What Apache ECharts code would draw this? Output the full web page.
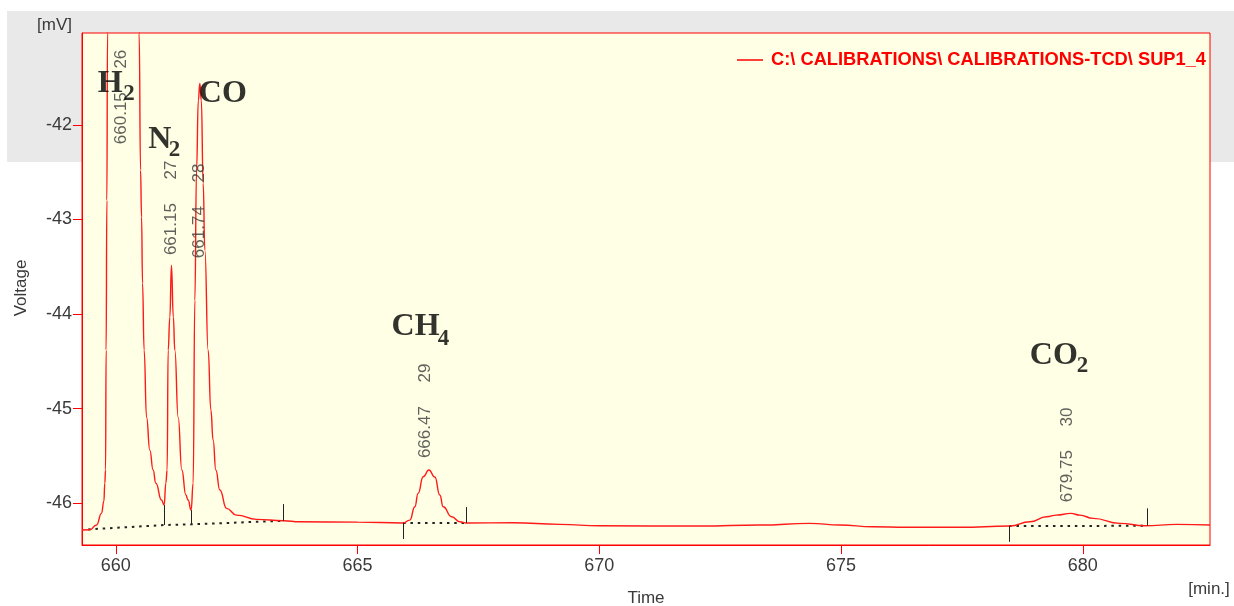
<!DOCTYPE html>
<html>
<head>
<meta charset="utf-8">
<script src="https://cdn.jsdelivr.net/npm/echarts@6/dist/echarts.min.js"></script>
<style>
html,body{margin:0;padding:0;background:#ffffff;}
#c{width:1234px;height:606px;}
</style>
</head>
<body>
<div id="c"></div>
<script>
// ---------- data ----------
const seriesName = 'C:\\ CALIBRATIONS\\ CALIBRATIONS-TCD\\ SUP1_4';

const traceTime = [
  659.300, 659.462, 659.601, 659.704, 659.752, 659.772, 659.787, 659.799, 659.814, 659.828,
  659.845, 660.150, 660.470, 660.482, 660.511, 660.532, 660.552, 660.585, 660.635, 660.703,
  660.771, 660.827, 660.945, 660.999, 661.034, 661.061, 661.082, 661.117, 661.150, 661.189,
  661.220, 661.289, 661.365, 661.448, 661.495, 661.557, 661.599, 661.634, 661.669, 661.706,
  661.737, 661.768, 661.806, 661.841, 661.909, 661.965, 662.012, 662.068, 662.151, 662.290,
  662.496, 662.910, 663.460, 663.806, 665.000, 665.942, 666.081, 666.184, 666.252, 666.356,
  666.474, 666.598, 666.701, 666.770, 666.944, 667.115, 667.253, 668.211, 669.183, 670.010,
  672.079, 673.320, 674.345, 674.974, 675.657, 676.360, 677.456, 678.490, 678.904, 679.249,
  679.456, 679.750, 679.937, 680.213, 680.765, 681.282, 681.938, 682.630
];
const traceVolt = [
  -46.282, -46.279, -46.229, -46.106, -45.977, -45.786, -45.648, -44.381, -42.797, -41.032,
  -39.000, -36.500, -39.500, -41.035, -42.480, -42.976, -43.673, -44.381, -45.089, -45.437,
  -45.648, -45.786, -45.965, -46.018, -45.786, -45.648, -44.381, -44.032, -43.483, -44.032,
  -44.381, -45.089, -45.648, -45.912, -45.965, -46.071, -45.786, -43.853, -42.480, -41.740,
  -41.564, -41.740, -42.617, -43.324, -44.381, -45.014, -45.331, -45.648, -45.859, -46.053,
  -46.124, -46.169, -46.184, -46.195, -46.198, -46.208, -46.177, -46.036, -45.895, -45.719,
  -45.648, -45.722, -45.912, -46.036, -46.142, -46.195, -46.208, -46.205, -46.222, -46.237,
  -46.240, -46.229, -46.211, -46.229, -46.247, -46.253, -46.253, -46.240, -46.195, -46.142,
  -46.124, -46.106, -46.124, -46.159, -46.211, -46.237, -46.222, -46.229
];

const xTicks = [660, 665, 670, 675, 680];
const yTicks = [-46, -45, -44, -43, -42];

// integration baselines (dotted)
const baseline1Time = [659.427, 660.999, 661.557, 663.460];
const baseline1Volt = [-46.275, -46.229, -46.222, -46.184];
const baseline2Time = [665.942, 667.253];
const baseline2Volt = [-46.208, -46.208];
const baseline3Time = [678.476, 681.330];
const baseline3Volt = [-46.240, -46.237];

// peak start/end markers
const markerTime = [659.427, 660.999, 661.557, 663.460, 665.942, 667.253, 678.476, 681.330];
const markerFrom = [-46.275, -46.018, -46.071, -46.008, -46.208, -46.039, -46.240, -46.053];
const markerTo   = [-46.441, -46.229, -46.222, -46.184, -46.377, -46.208, -46.406, -46.237];

// peak annotations
const peakRT      = ['660.15', '661.15', '661.74', '666.47', '679.75'];
const peakNumber  = ['26', '27', '28', '29', '30'];
const peakLblTime = [660.118, 661.152, 661.717, 666.391, 679.669];
const peakLblVolt = [-42.205, -43.377, -43.409, -45.522, -45.987];

// compound names
const compoundMain     = ['H', 'N', 'CO', 'CH', 'CO'];
const compoundMainTime = [659.628, 660.668, 661.717, 665.702, 678.904];
const compoundMainVolt = [-41.564, -42.154, -41.675, -44.133, -44.442];
const compoundSub      = ['2', '2', '4', '2'];
const compoundSubTime  = [660.151, 661.096, 666.660, 679.876];
const compoundSubVolt  = [-41.675, -42.268, -44.259, -44.545];

// ---------- chart ----------
const SANS = 'Liberation Sans, Arial, sans-serif';
const SERIF = 'Liberation Serif, Times New Roman, serif';
const TXT = '#3a3a3a';
const RED = '#ff0000';

const zip = (a, b) => a.map((v, i) => [v, b[i]]);

const chart = echarts.init(document.getElementById('c'), null, {renderer: 'canvas'});

const baselineSeries = [
  [baseline1Time, baseline1Volt],
  [baseline2Time, baseline2Volt],
  [baseline3Time, baseline3Volt]
].map(([t, v], i) => ({
  name: 'baseline' + i,
  type: 'line',
  data: zip(t, v),
  showSymbol: false,
  symbol: 'none',
  silent: true,
  z: 3,
  lineStyle: {color: '#222', width: 2, type: [2.5, 4.8]}
}));

const option = {
  animation: false,
  backgroundColor: 'transparent',
  graphic: {
    elements: [
      {type: 'rect', z: -10, zlevel: 0, silent: true,
       shape: {x: 7, y: 11, width: 1227, height: 151},
       style: {fill: '#e9e9e9'}},
      {type: 'text', left: 37, top: 17, silent: true,
       style: {text: '[mV]', fill: TXT, font: '17px ' + SANS}},
      {type: 'text', x: 21, y: 288, rotation: Math.PI / 2, silent: true,
       style: {text: 'Voltage', fill: TXT, font: '17px ' + SANS, align: 'center', verticalAlign: 'middle'}},
      {type: 'text', x: 646, y: 598, silent: true,
       style: {text: 'Time', fill: TXT, font: '17px ' + SANS, align: 'center', verticalAlign: 'middle'}},
      {type: 'text', x: 1209, y: 589, silent: true,
       style: {text: '[min.]', fill: TXT, font: '17px ' + SANS, align: 'center', verticalAlign: 'middle'}}
    ]
  },
  legend: {
    data: [seriesName],
    left: 737,
    top: 51,
    padding: 0,
    icon: 'rect',
    itemWidth: 26,
    itemHeight: 1.5,
    selectedMode: false,
    textStyle: {color: RED, fontWeight: 'bold', fontSize: 18.3, fontFamily: SANS, padding: [0, 0, 0, 3]}
  },
  grid: {
    left: 82, top: 33, width: 1128, height: 512,
    show: true,
    backgroundColor: '#ffffe6',
    borderColor: RED,
    borderWidth: 1,
    containLabel: false
  },
  xAxis: {
    type: 'value',
    min: 659.30,
    max: 682.63,
    axisLine: {show: true, onZero: false, lineStyle: {color: RED, width: 1}},
    axisTick: {show: true, length: 9, customValues: xTicks, lineStyle: {color: RED, width: 1}},
    axisLabel: {show: true, customValues: xTicks, margin: 12, color: TXT, fontSize: 18, fontFamily: SANS,
                formatter: v => String(v)},
    splitLine: {show: false}
  },
  yAxis: {
    type: 'value',
    min: -46.44,
    max: -41.03,
    axisLine: {show: true, onZero: false, lineStyle: {color: RED, width: 1}},
    axisTick: {show: true, length: 9, customValues: yTicks, lineStyle: {color: RED, width: 1}},
    axisLabel: {show: true, customValues: yTicks, margin: 10, color: TXT, fontSize: 18, fontFamily: SANS,
                formatter: v => String(v)},
    splitLine: {show: false}
  },
  series: [
    {
      name: seriesName,
      type: 'line',
      data: zip(traceTime, traceVolt),
      showSymbol: false,
      symbol: 'none',
      smooth: 0.5,
      smoothMonotone: 'x',
      clip: true,
      z: 4,
      color: RED,
      lineStyle: {color: '#ff1a1a', width: 1.4}
    },
    ...baselineSeries,
    {
      name: 'markers',
      type: 'line',
      data: [],
      silent: true,
      markLine: {
        silent: true,
        symbol: ['none', 'none'],
        animation: false,
        label: {show: false},
        lineStyle: {color: '#222', width: 1, type: 'solid'},
        emphasis: {disabled: true},
        data: markerTime.map((t, i) => [{coord: [t, markerFrom[i]]}, {coord: [t, markerTo[i]]}])
      }
    },
    {
      name: 'peakLabels',
      type: 'scatter',
      silent: true,
      symbolSize: 1,
      z: 6,
      itemStyle: {color: 'transparent'},
      data: peakRT.map((rt, i) => ({value: [peakLblTime[i], peakLblVolt[i]], name: rt + '     ' + peakNumber[i]})),
      label: {
        show: true, position: 'inside', rotate: 90, align: 'left', verticalAlign: 'middle',
        formatter: p => p.name, color: TXT, fontSize: 17, fontFamily: SANS
      }
    },
    {
      name: 'compoundMain',
      type: 'scatter',
      silent: true,
      symbolSize: 1,
      z: 7,
      itemStyle: {color: 'transparent'},
      data: compoundMain.map((s, i) => ({value: [compoundMainTime[i], compoundMainVolt[i]], name: s})),
      label: {
        show: true, position: 'inside', align: 'left', verticalAlign: 'middle',
        formatter: p => p.name, color: '#000', fontSize: 32, fontWeight: 'bold', fontFamily: SERIF
      }
    },
    {
      name: 'compoundSub',
      type: 'scatter',
      silent: true,
      symbolSize: 1,
      z: 7,
      itemStyle: {color: 'transparent'},
      data: compoundSub.map((s, i) => ({value: [compoundSubTime[i], compoundSubVolt[i]], name: s})),
      label: {
        show: true, position: 'inside', align: 'left', verticalAlign: 'middle',
        formatter: p => p.name, color: '#000', fontSize: 23, fontWeight: 'bold', fontFamily: SERIF
      }
    }
  ]
};

chart.setOption(option);
</script>
</body>
</html>
